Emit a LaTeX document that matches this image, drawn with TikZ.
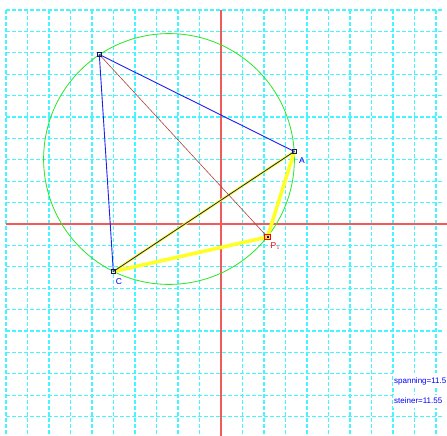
\documentclass[tikz,border=0pt]{standalone}
\usepackage{fontspec}
\setmainfont{Liberation Sans}
\usetikzlibrary{calc}
\begin{document}
\begin{tikzpicture}[x=1pt,y=-1pt,
  gridline/.style={draw={rgb,255:red,70;green,245;blue,255},line width=1.2pt,dash pattern=on 4pt off 2pt},
  axisline/.style={draw={rgb,255:red,240;green,90;blue,90},line width=1.3pt},
  edgeblue/.style={draw={rgb,255:red,30;green,30;blue,240},line width=0.9pt},
  edgebrown/.style={draw={rgb,255:red,170;green,70;blue,60},line width=0.6pt},
  yellowedge/.style={draw={rgb,255:red,255;green,255;blue,40},line width=3.6pt},
  yellowthin/.style={draw={rgb,255:red,255;green,255;blue,40},line width=2.6pt},
  darkedge/.style={draw={rgb,255:red,30;green,30;blue,110},line width=0.8pt},
  vtx/.style={draw={rgb,255:red,20;green,20;blue,110},line width=0.8pt,fill=none,minimum size=3.5pt,inner sep=0pt,rectangle},
  pvtx/.style={draw=red,fill=yellow,line width=1pt,minimum size=5.5pt,inner sep=0pt,rectangle},
  lblblue/.style={text=blue,font=\fontsize{8.5}{9}\selectfont,inner sep=0pt},
  lblred/.style={text=red,font=\fontsize{8.5}{9}\selectfont,inner sep=0pt},
  info/.style={text=blue,font=\fontsize{8}{9}\selectfont,inner sep=0pt,anchor=base west}]
\useasboundingbox (0,0) rectangle (447,436);
\fill[white] (0,0) rectangle (447,436);
% grid
\foreach \k in {0,...,20} {\draw[gridline] ({6+21.5*\k},10) -- ({6+21.5*\k},436);}
\foreach \k in {0,...,19} {\draw[gridline] (6,{10+21.4*\k}) -- (442,{10+21.4*\k});}
% axes
\draw[axisline] (221,10) -- (221,436);
\draw[axisline] (6,224) -- (447,224);
% points
\coordinate (B) at (99.3,54.5);
\coordinate (A) at (294.3,151.5);
\coordinate (C) at (113.3,271.5);
\coordinate (P) at (267.5,237);
\coordinate (O) at (169,159);
% circle
\draw[draw={rgb,255:red,40;green,230;blue,40},line width=0.8pt] (O) circle (125.4);
% edges
\draw[yellowthin] (C) -- (A);
\draw[yellowedge] (A) -- (P) -- (C);
\draw[darkedge] (C) -- (A);
\draw[edgeblue] (B) -- (A);
\draw[edgeblue] (B) -- (C);
\draw[edgebrown] (B) -- (P);
% vertices
\node[vtx] (nB) at (B) {};
\node[vtx] (nA) at (A) {};
\node[vtx] (nC) at (C) {};
\node[pvtx] (nP) at (P) {};
\fill[blue] ($(P)+(-1,-1)$) rectangle ($(P)+(1,1)$);
% labels
\node[lblblue] (la) at (302,161) {A};
\node[lblblue] (lc) at (119,281.5) {C};
\node[lblred] (lp) at (275.5,246) {P$_{\scriptscriptstyle 1}$};
% info
\fill[white] (393,373) rectangle (447,388);
\fill[white] (393,395) rectangle (447,408);
\node[info] (t1) at (394,383.5) {spanning=11.5};
\node[info] (t2) at (394,403.5) {steiner=11.55};
\end{tikzpicture}
\end{document}
